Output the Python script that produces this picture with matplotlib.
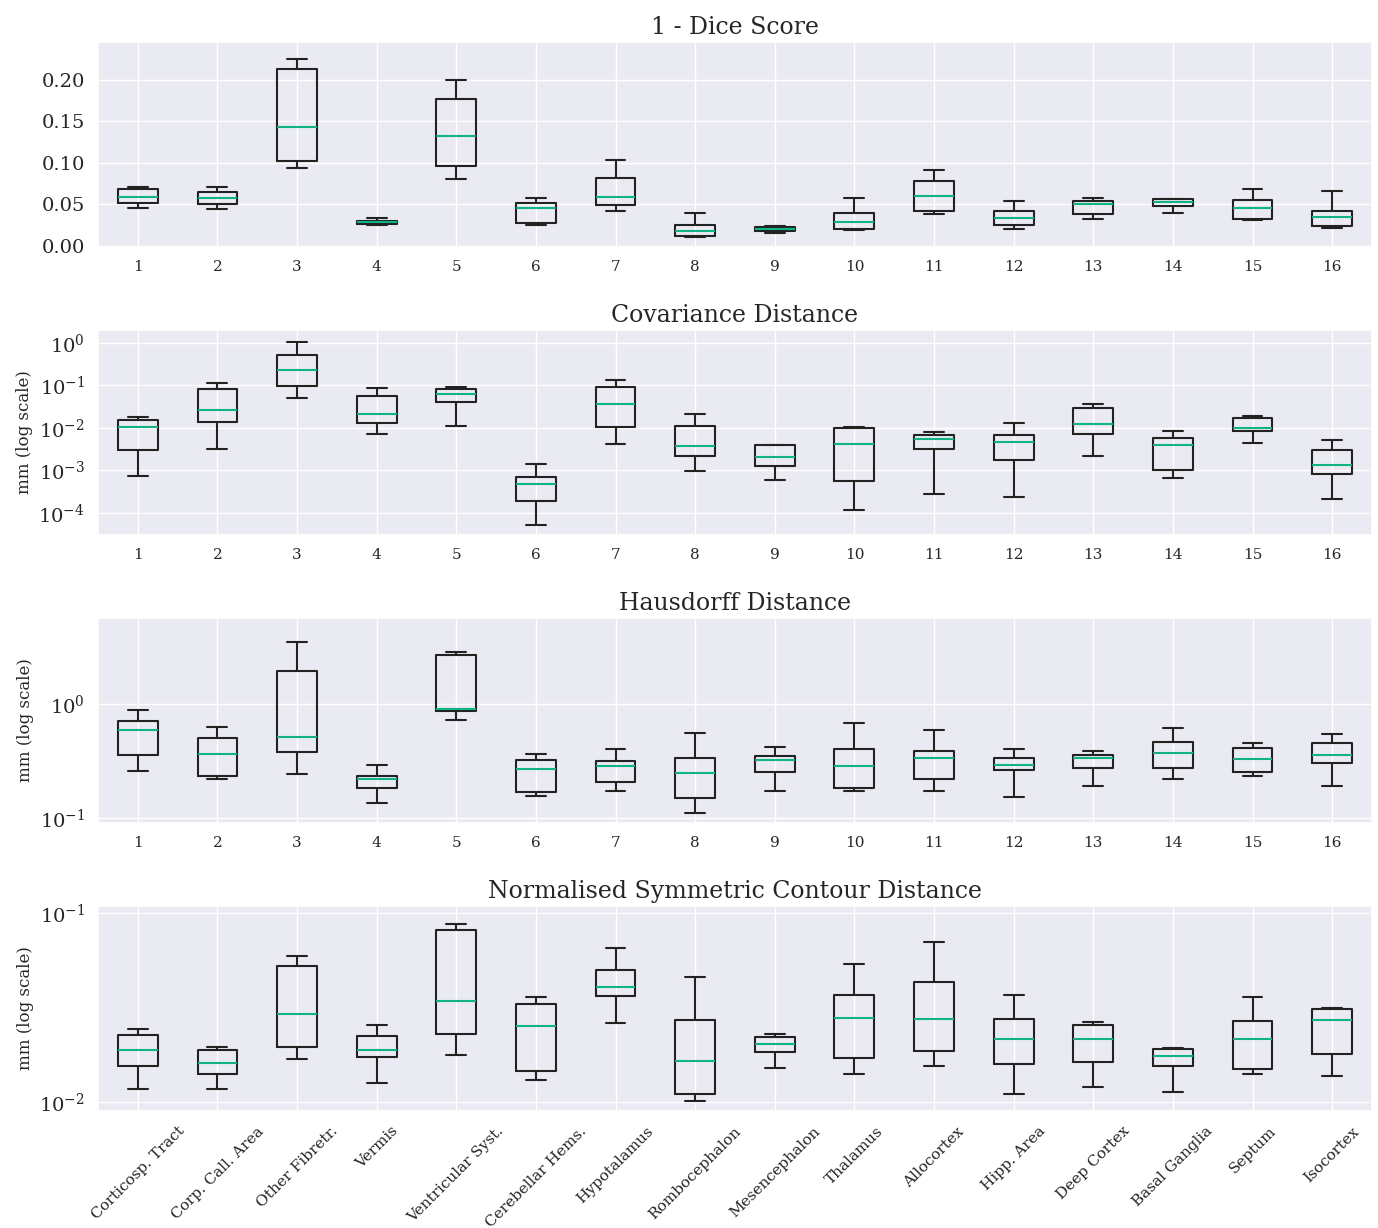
import numpy as np
import matplotlib
matplotlib.use("Agg")
import matplotlib.pyplot as plt
import matplotlib.ticker as mticker
import seaborn as sns

regions = ['Corticosp. Tract', 'Corp. Call. Area', 'Other Fibretr.', 'Vermis',
           'Ventricular Syst.', 'Cerebellar Hems.', 'Hypotalamus', 'Rombocephalon',
           'Mesencephalon', 'Thalamus', 'Allocortex', 'Hipp. Area', 'Deep Cortex',
           'Basal Ganglia', 'Septum', 'Isocortex']

# 1 - Dice score
dice_lo = [0.045, 0.044, 0.094, 0.025, 0.080, 0.0245, 0.042, 0.010,
           0.0153, 0.019, 0.038, 0.0205, 0.032, 0.0394, 0.0305, 0.0217]
dice_q1 = [0.052, 0.050, 0.102, 0.0257, 0.096, 0.027, 0.0486, 0.0112,
           0.0173, 0.0197, 0.042, 0.0253, 0.0378, 0.048, 0.0317, 0.0241]
dice_med = [0.059, 0.058, 0.143, 0.028, 0.132, 0.046, 0.059, 0.0173,
            0.0205, 0.029, 0.0594, 0.034, 0.050, 0.0526, 0.0454, 0.0346]
dice_q3 = [0.069, 0.065, 0.213, 0.030, 0.177, 0.052, 0.082, 0.0253,
           0.0225, 0.039, 0.0775, 0.042, 0.054, 0.0558, 0.0546, 0.0418]
dice_hi = [0.0703, 0.0707, 0.225, 0.034, 0.200, 0.058, 0.1036, 0.0394,
           0.0233, 0.058, 0.0916, 0.0539, 0.058, 0.0566, 0.0687, 0.0659]

# covariance distance
cov_lo = [0.000745, 0.00311, 0.0505, 0.00703, 0.0110, 0.0000512, 0.00408, 0.00096,
          0.000589, 0.000118, 0.000275, 0.000238, 0.00217, 0.000644, 0.00447, 0.000214]
cov_q1 = [0.0030, 0.0137, 0.0968, 0.0128, 0.040, 0.000185, 0.0103, 0.00213,
          0.00124, 0.000568, 0.00311, 0.00171, 0.00716, 0.000995, 0.0084, 0.000817]
cov_med = [0.0107, 0.0263, 0.223, 0.0208, 0.0628, 0.000474, 0.0358, 0.0038,
           0.00202, 0.00416, 0.00556, 0.00455, 0.0121, 0.00394, 0.0101, 0.00133]
cov_q3 = [0.0153, 0.0838, 0.521, 0.0553, 0.0809, 0.000706, 0.090, 0.0108,
          0.00387, 0.00973, 0.00665, 0.00665, 0.0299, 0.00576, 0.0171, 0.0030]
cov_hi = [0.0177, 0.114, 1.04, 0.0869, 0.090, 0.0014, 0.132, 0.0208,
          0.00387, 0.0103, 0.00783, 0.0132, 0.0365, 0.0084, 0.019, 0.00507]

# hausdorff distance
haus_lo = [0.258, 0.220, 0.246, 0.135, 0.724, 0.156, 0.174, 0.111,
           0.174, 0.174, 0.174, 0.155, 0.191, 0.220, 0.234, 0.191]
haus_q1 = [0.355, 0.234, 0.379, 0.186, 0.874, 0.169, 0.207, 0.150,
           0.255, 0.186, 0.220, 0.262, 0.278, 0.273, 0.253, 0.306]
haus_med = [0.587, 0.362, 0.514, 0.221, 0.910, 0.271, 0.286, 0.248,
            0.321, 0.288, 0.340, 0.292, 0.334, 0.369, 0.327, 0.355]
haus_q3 = [0.714, 0.507, 1.93, 0.235, 2.65, 0.323, 0.316, 0.336,
           0.352, 0.400, 0.387, 0.340, 0.355, 0.464, 0.411, 0.455]
haus_hi = [0.880, 0.633, 3.45, 0.294, 2.86, 0.367, 0.400, 0.561,
           0.423, 0.686, 0.592, 0.400, 0.384, 0.612, 0.458, 0.542]

# normalised symmetric contour distance
nscd_lo = [0.0117, 0.0118, 0.0170, 0.0127, 0.0177, 0.0132, 0.0263, 0.01016,
           0.0151, 0.0142, 0.0156, 0.0111, 0.0120, 0.0114, 0.0141, 0.0137]
nscd_q1 = [0.0155, 0.0141, 0.0196, 0.0174, 0.0230, 0.0146, 0.0365, 0.0110,
           0.0184, 0.0172, 0.0186, 0.0159, 0.0164, 0.0156, 0.0150, 0.0180]
nscd_med = [0.0189, 0.0162, 0.0292, 0.0189, 0.0342, 0.0253, 0.0407, 0.0166,
            0.0203, 0.0280, 0.0277, 0.0215, 0.0216, 0.0176, 0.0215, 0.0274]
nscd_q3 = [0.0228, 0.0188, 0.0526, 0.0225, 0.0812, 0.0330, 0.0499, 0.0272,
           0.0222, 0.0370, 0.0432, 0.0276, 0.0256, 0.0191, 0.0270, 0.0313]
nscd_hi = [0.0244, 0.0196, 0.0594, 0.0256, 0.0877, 0.0363, 0.0655, 0.0458,
           0.0231, 0.0539, 0.0705, 0.0370, 0.0265, 0.0194, 0.0363, 0.0315]

titles = ['1 - Dice Score', 'Covariance Distance', 'Hausdorff Distance',
          'Normalised Symmetric Contour Distance']


def make_stats(lo, q1, med, q3, hi):
    return [dict(whislo=a, q1=b, med=c, q3=d, whishi=e)
            for a, b, c, d, e in zip(lo, q1, med, q3, hi)]


sns.set_theme(style="darkgrid")
plt.rcParams['font.family'] = 'serif'
plt.rcParams['font.serif'] = ['DejaVu Serif']

all_stats = [make_stats(dice_lo, dice_q1, dice_med, dice_q3, dice_hi),
             make_stats(cov_lo, cov_q1, cov_med, cov_q3, cov_hi),
             make_stats(haus_lo, haus_q1, haus_med, haus_q3, haus_hi),
             make_stats(nscd_lo, nscd_q1, nscd_med, nscd_q3, nscd_hi)]
ylims = [(-0.0016, 0.246), (10 ** -4.52, 10 ** 0.30),
         (10 ** -1.04, 10 ** 0.75), (10 ** -2.046, 10 ** -0.961)]

fig, axs = plt.subplots(4, 1, figsize=(13.78, 12.28), dpi=100)
fig.subplots_adjust(left=0.0711, right=0.9956, top=0.9658, bottom=0.0953, hspace=0.405)

pos = np.arange(1, len(regions) + 1)
line = dict(color='#222222', linewidth=1.5)
for i, ax in enumerate(axs):
    ax.bxp(all_stats[i], positions=pos, widths=0.5, showfliers=False,
           boxprops=line, whiskerprops=line, capprops=line,
           medianprops=dict(color='#10b383', linewidth=1.5))
    ax.set_xlim(0.5, 16.5)
    if i > 0:
        ax.set_yscale('log')
        ax.yaxis.set_minor_locator(mticker.NullLocator())
        ax.yaxis.set_minor_formatter(mticker.NullFormatter())
        ax.set_ylabel('mm (log scale)', fontsize=12)
    else:
        ax.set_yticks([0.0, 0.05, 0.10, 0.15, 0.20])
        ax.yaxis.set_major_formatter(mticker.FormatStrFormatter('%.2f'))
    ax.set_ylim(*ylims[i])
    ax.set_title(titles[i], fontsize=17)
    ax.tick_params(axis='y', labelsize=14)
    if i < 3:
        ax.set_xticks(pos, [str(p) for p in pos])
        ax.tick_params(axis='x', labelsize=11)
    else:
        ax.set_xticks(pos, regions, rotation=45)
        ax.tick_params(axis='x', labelsize=11)

plt.savefig('out.png', dpi=100)
